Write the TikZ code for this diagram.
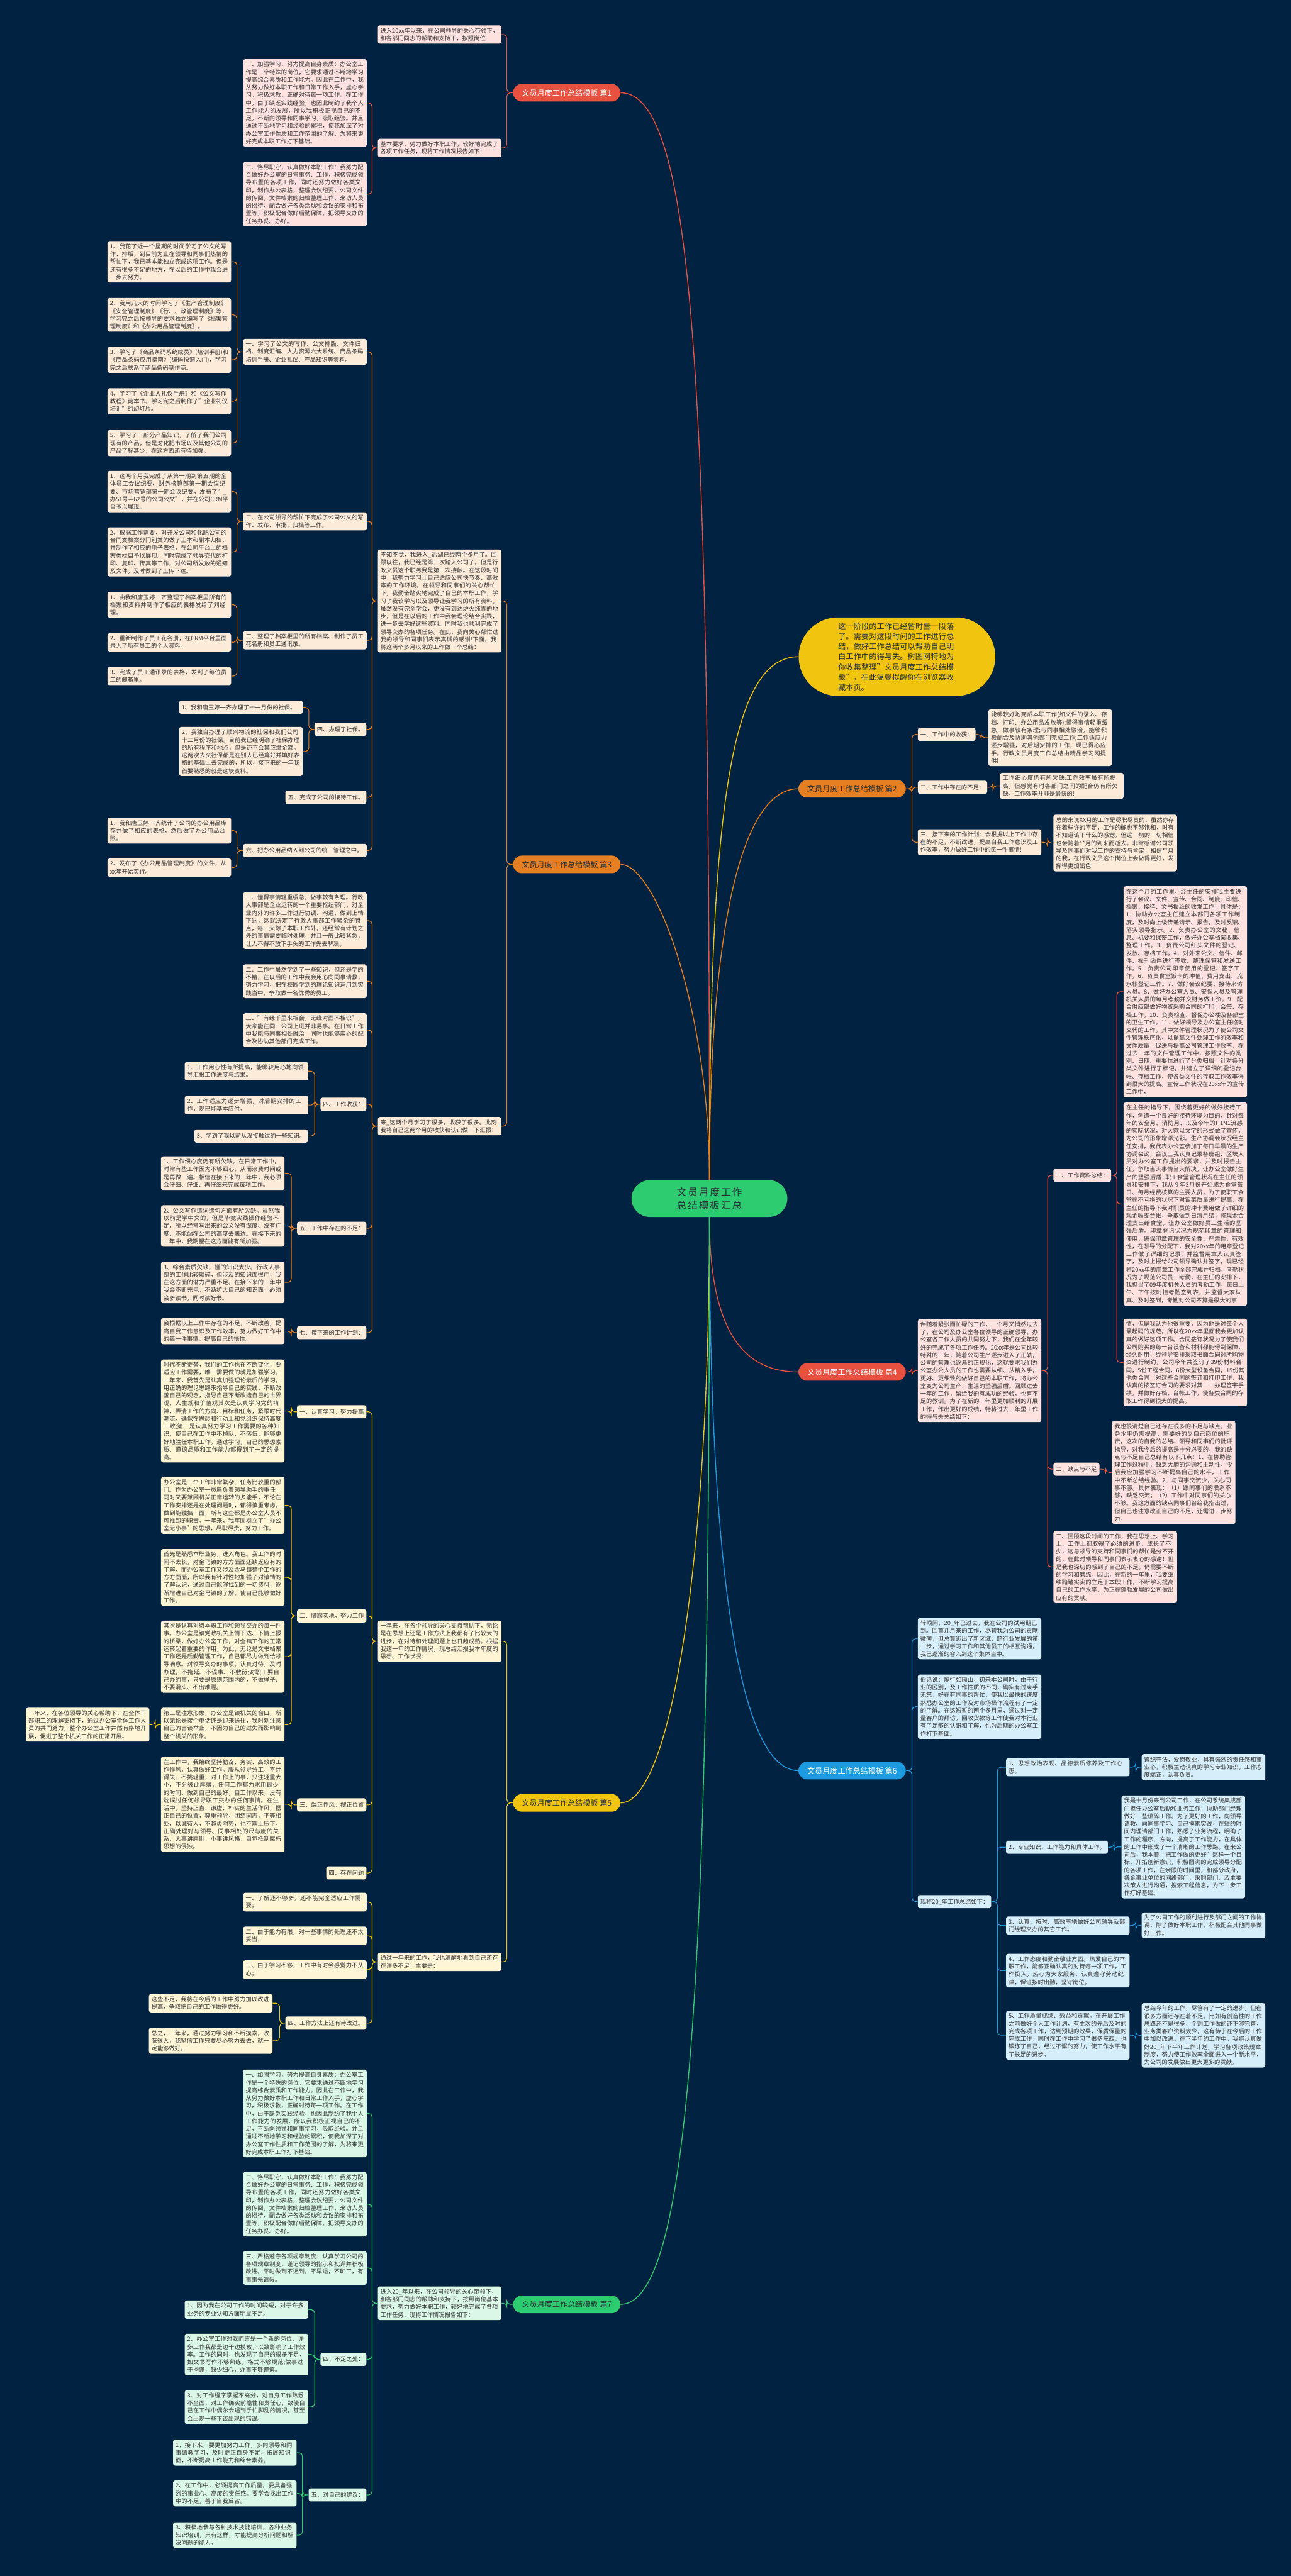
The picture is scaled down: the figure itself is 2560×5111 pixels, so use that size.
\documentclass[tikz,border=0pt]{standalone}
\usepackage{fontspec}
\setmainfont{Noto Sans CJK SC}
\XeTeXlinebreaklocale "zh"
\XeTeXlinebreakskip=0pt plus 1pt
\usepackage{tikz}
\definecolor{fondo}{HTML}{012240}
\definecolor{rojo}{HTML}{E8503F}
\definecolor{naranja}{HTML}{E67E22}
\definecolor{amarillo}{HTML}{F1C40F}
\definecolor{azul}{HTML}{1C9BE0}
\definecolor{verde}{HTML}{2ECC71}
\definecolor{rosa}{HTML}{FDE2DF}
\definecolor{crema}{HTML}{FDEBDA}
\definecolor{paja}{HTML}{FEF5D6}
\definecolor{celeste}{HTML}{D6EEFA}
\definecolor{menta}{HTML}{DAF7E7}
\definecolor{tinta}{HTML}{333333}
\definecolor{oscuro}{HTML}{243036}

\begin{document}
\begin{tikzpicture}[x=0.02cm, y=-0.02cm,
  hoja/.style={anchor=north west, text width=4.7cm, align=left, inner sep=0.1cm,
    minimum height=0.52cm, rounded corners=0.08cm, text=tinta,
    font=\fontsize{6.6pt}{8.7pt}\selectfont},
  etiqueta/.style={inner sep=0.1cm, minimum height=0.52cm, rounded corners=0.08cm,
    text=tinta, font=\fontsize{6.6pt}{8.7pt}\selectfont},
  rama/.style={rounded corners=0.35cm, minimum width=4.26cm, minimum height=0.7cm,
    inner sep=2pt, font=\fontsize{8.6pt}{10pt}\selectfont},
  lin/.style={line width=0.8pt, rounded corners=4pt},
  curva/.style={line width=1pt}
]
\useasboundingbox (0,0) rectangle (2560,5111);
\fill[fondo] (0,0) rectangle (2560,5111);

% Centro
\node[fill=verde, text=oscuro, rounded corners=0.73cm, minimum width=6.18cm,
  minimum height=1.46cm, text width=4.5cm, align=center,
  font=\fontsize{11.3pt}{14.8pt}\selectfont] (hub) at (1407,2378) {文员月度工作总结模板汇总};
\node[fill=amarillo, text=oscuro, rounded corners=1.56cm, minimum width=7.8cm,
  minimum height=3.12cm, text width=4.66cm, align=left,
  font=\fontsize{8.6pt}{11.5pt}\selectfont] (intro) at (1779,1303)
  {这一阶段的工作已经暂时告一段落了。需要对这段时间的工作进行总结，做好工作总结可以帮助自己明白工作中的得与失。树图网特地为你收集整理"文员月度工作总结模板"，在此温馨提醒你在浏览器收藏本页。};

% Ramas
\node[rama, fill=rojo, text=white] (b1) at (1124,184) {文员月度工作总结模板 篇1};
\node[rama, fill=naranja, text=oscuro] (b2) at (1690,1565) {文员月度工作总结模板 篇2};
\node[rama, fill=naranja, text=oscuro] (b3) at (1124,1715) {文员月度工作总结模板 篇3};
\node[rama, fill=rojo, text=white] (b4) at (1690,2722) {文员月度工作总结模板 篇4};
\node[rama, fill=amarillo, text=oscuro] (b5) at (1124,3577) {文员月度工作总结模板 篇5};
\node[rama, fill=azul, text=white] (b6) at (1690,3513) {文员月度工作总结模板 篇6};
\node[rama, fill=verde, text=oscuro] (b7) at (1124,4572) {文员月度工作总结模板 篇7};

\draw[curva, rojo] (hub.north) .. controls (1407,800) and (1380,184) .. (b1.east);
\draw[curva, amarillo] (hub.north) .. controls (1407,1600) and (1450,1303) .. (intro.west);
\draw[curva, naranja] (hub.north) .. controls (1407,1800) and (1480,1565) .. (b2.west);
\draw[curva, naranja] (hub.north) .. controls (1407,2000) and (1300,1715) .. (b3.east);
\draw[curva, rojo] (hub.south) .. controls (1407,2650) and (1480,2722) .. (b4.west);
\draw[curva, amarillo] (hub.south) .. controls (1407,3100) and (1330,3577) .. (b5.east);
\draw[curva, azul] (hub.south) .. controls (1407,3200) and (1480,3513) .. (b6.west);
\draw[curva, verde] (hub.south) .. controls (1407,3900) and (1370,4572) .. (b7.east);

% Pian 1
\node[hoja, fill=rosa] (a1) at (749,50) {进入20xx年以来，在公司领导的关心带领下，和各部门同志的帮助和支持下，按照岗位};
\node[hoja, fill=rosa] (a2) at (749,275) {基本要求，努力做好本职工作，较好地完成了各项工作任务，现将工作情况报告如下：};
\node[hoja, fill=rosa] (a3) at (482,117) {一、加强学习，努力提高自身素质：办公室工作是一个特殊的岗位，它要求通过不断地学习提高综合素质和工作能力。因此在工作中，我从努力做好本职工作和日常工作入手，虚心学习，积极求教，正确对待每一项工作。在工作中，由于缺乏实践经验，也因此制约了我个人工作能力的发展，所以我积极正视自己的不足，不断向领导和同事学习，吸取经验。并且通过不断地学习和经验的累积，使我加深了对办公室工作性质和工作范围的了解，为将来更好完成本职工作打下基础。};
\node[hoja, fill=rosa] (a4) at (482,321) {二、恪尽职守，认真做好本职工作：我努力配合做好办公室的日常事务、工作，积极完成领导布置的各项工作，同时还努力做好各类文印，制作办公表格，整理会议纪要，公司文件的传阅，文件档案的归档整理工作，来访人员的招待，配合做好各类活动和会议的安排和布置等，积极配合做好后勤保障，把领导交办的任务办妥、办好。};
\draw[lin, rojo] (b1.west) -- ++(-12,0) |- (a1.east) (b1.west) -- ++(-12,0) |- (a2.east);
\draw[lin, rojo] (a2.west) -- ++(-11,0) |- (a3.east) (a2.west) -- ++(-11,0) |- (a4.east);

% Pian 3
\node[hoja, fill=crema] (d3) at (749,1090) {不知不觉，我进入\_盐湖已经两个多月了。回顾以往，我已经是第三次踏入公司了。但是行政文员这个职务我是第一次接触。在这段时间中，我努力学习让自己适应公司快节奏、高效率的工作环境。在领导和同事们的关心帮忙下，我勤奋踏实地完成了自己的本职工作，学习了我该学习以及领导让我学习的所有资料，虽然没有完全学会，更没有到达炉火纯青的地步，但是在以后的工作中我会理论结合实践，进一步去学好这些资料。同时我也顺利完成了领导交办的各项任务。在此，我向关心帮忙过我的领导和同事们表示真诚的感谢!下面，我将这两个多月以来的工作做一个总结：};
\node[hoja, fill=crema] (d3b) at (749,2216) {来\_这两个月学习了很多，收获了很多。此刻我将自己这两个月的收获和认识做一下汇报：};
\draw[lin, naranja] (b3.west) -- ++(-12,0) |- (d3.east) (b3.west) -- ++(-12,0) |- (d3b.east);

\node[hoja, fill=crema] (c1) at (482,672) {一、学习了公文的写作、公文排版、文件归档、制度汇编、人力资源六大系统、商品条码培训手册、企业礼仪、产品知识等资料。};
\node[hoja, fill=crema] (c2) at (482,1016) {二、在公司领导的帮忙下完成了公司公文的写作、发布、审批、归档等工作。};
\node[hoja, fill=crema] (c3) at (482,1252) {三、整理了档案柜里的所有档案、制作了员工花名册和员工通讯录。};
\node[etiqueta, fill=crema, anchor=east] (c4) at (727,1447) {四、办理了社保。};
\node[etiqueta, fill=crema, anchor=east] (c5) at (727,1582) {五、完成了公司的接待工作。};
\node[hoja, fill=crema] (c6) at (482,1674) {六、把办公用品纳入到公司的统一管理之中。};
\draw[lin, naranja] (d3.west) -- ++(-11,0) |- (c1.east) (d3.west) -- ++(-11,0) |- (c2.east)
  (d3.west) -- ++(-11,0) |- (c3.east) (d3.west) -- ++(-11,0) |- (c4.east)
  (d3.west) -- ++(-11,0) |- (c5.east) (d3.west) -- ++(-11,0) |- (c6.east);

\node[hoja, fill=crema] (l1) at (213,478) {1、我花了近一个星期的时间学习了公文的写作、排版，到目前为止在领导和同事们热情的帮忙下，我已基本能独立完成这项工作。但是还有很多不足的地方，在以后的工作中我会进一步去努力。};
\node[hoja, fill=crema] (l2) at (213,591) {2、我用几天的时间学习了《生产管理制度》《安全管理制度》《行、、政管理制度》等，学习完之后按领导的要求独立编写了《档案管理制度》和《办公用品管理制度》。};
\node[hoja, fill=crema] (l3) at (213,688) {3、学习了《商品条码系统成员》(培训手册)和《商品条码应用指南》(编码快速入门)，学习完之后联系了商品条码制作商。};
\node[hoja, fill=crema] (l4) at (213,770) {4、学习了《企业人礼仪手册》和《公文写作教程》两本书。学习完之后制作了"企业礼仪培训"的幻灯片。};
\node[hoja, fill=crema] (l5) at (213,853) {5、学习了一部分产品知识，了解了我们公司现有的产品，但是对化肥市场以及其他公司的产品了解甚少，在这方面还有待加强。};
\draw[lin, naranja] (c1.west) -- ++(-12,0) |- (l1.east) (c1.west) -- ++(-12,0) |- (l2.east)
  (c1.west) -- ++(-12,0) |- (l3.east) (c1.west) -- ++(-12,0) |- (l4.east)
  (c1.west) -- ++(-12,0) |- (l5.east);
\node[hoja, fill=crema] (l6) at (213,934) {1、这两个月我完成了从第一期到第五期的全体员工会议纪要、财务核算部第一期会议纪要、市场营销部第一期会议纪要，发布了"\_办51号—62号的公司公文"，并在公司CRM平台予以展现。};
\node[hoja, fill=crema] (l7) at (213,1046) {2、根据工作需要，对开发公司和化肥公司的合同类档案分门别类的做了正本和副本归档，并制作了相应的电子表格，在公司平台上的档案类栏目予以展现。同时完成了领导交代的打印、复印、传真等工作，对公司所发放的通知及文件，及时做到了上传下达。};
\draw[lin, naranja] (c2.west) -- ++(-12,0) |- (l6.east) (c2.west) -- ++(-12,0) |- (l7.east);
\node[hoja, fill=crema] (l8) at (213,1174) {1、由我和唐玉婷一齐整理了档案柜里所有的档案和资料并制作了相应的表格发给了刘经理。};
\node[hoja, fill=crema] (l9) at (213,1256) {2、重新制作了员工花名册，在CRM平台里面录入了所有员工的个人资料。};
\node[hoja, fill=crema] (l10) at (213,1323) {3、完成了员工通讯录的表格，发到了每位员工的邮箱里。};
\draw[lin, naranja] (c3.west) -- ++(-12,0) |- (l8.east) (c3.west) -- ++(-12,0) |- (l9.east)
  (c3.west) -- ++(-12,0) |- (l10.east);
\node[hoja, fill=crema] (l11) at (355,1390) {1、我和唐玉婷一齐办理了十一月份的社保。};
\node[hoja, fill=crema] (l12) at (355,1442) {2、我独自办理了顺兴物流的社保和我们公司十二月份的社保。目前我已经明确了社保办理的所有程序和地点，但是还不会算应缴金额。这两次去交社保都是在别人已经算好并填好表格的基础上去完成的，所以，接下来的一年我首要熟悉的就是这块资料。};
\draw[lin, naranja] (c4.west) -- ++(-11,0) |- (l11.east) (c4.west) -- ++(-11,0) |- (l12.east);
\node[hoja, fill=crema] (l13) at (213,1622) {1、我和唐玉婷一齐统计了公司的办公用品库存并做了相应的表格，然后做了办公用品台账。};
\node[hoja, fill=crema] (l14) at (213,1703) {2、发布了《办公用品管理制度》的文件，从xx年开始实行。};
\draw[lin, naranja] (c6.west) -- ++(-12,0) |- (l13.east) (c6.west) -- ++(-12,0) |- (l14.east);

\node[hoja, fill=crema] (e1) at (482,1770) {一、懂得事情轻重缓急，做事较有条理。行政人事部是企业运转的一个重要枢纽部门，对企业内外的许多工作进行协调、沟通，做到上情下达，这就决定了行政人事部工作繁杂的特点，每一天除了本职工作外，还经常有计划之外的事情需要临时处理，并且一般比较紧急，让人不得不放下手头的工作先去解决。};
\node[hoja, fill=crema] (e2) at (482,1913) {二、工作中虽然学到了一些知识，但还是学的不精，在以后的工作中我会用心向同事请教，努力学习，把在校园学到的理论知识运用到实践当中，争取做一名优秀的员工。};
\node[hoja, fill=crema] (e3) at (482,2010) {三、"有缘千里来相会，无缘对面不相识"，大家能在同一公司上班并非易事。在日常工作中我能与同事相处融洽，同时也能够用心的配合及协助其他部门完成工作。};
\node[etiqueta, fill=crema, anchor=east] (e4) at (727,2191) {四、工作收获：};
\node[etiqueta, fill=crema, anchor=east] (e5) at (727,2437) {五、工作中存在的不足：};
\node[etiqueta, fill=crema, anchor=east] (e7) at (727,2644) {七、接下来的工作计划：};
\draw[lin, naranja] (d3b.west) -- ++(-11,0) |- (e1.east) (d3b.west) -- ++(-11,0) |- (e2.east)
  (d3b.west) -- ++(-11,0) |- (e3.east) (d3b.west) -- ++(-11,0) |- (e4.east)
  (d3b.west) -- ++(-11,0) |- (e5.east) (d3b.west) -- ++(-11,0) |- (e7.east);
\node[hoja, fill=crema] (f1) at (366,2107) {1、工作用心性有所提高，能够较用心地向领导汇报工作进度与结果。};
\node[hoja, fill=crema] (f2) at (366,2174) {2、工作适应力逐步增强，对后期安排的工作，现已能基本应付。};
\node[etiqueta, fill=crema, anchor=east] (f3) at (611,2254) {3、学到了我以前从没接触过的一些知识。};
\draw[lin, naranja] (e4.west) -- ++(-11,0) |- (f1.east) (e4.west) -- ++(-11,0) |- (f2.east)
  (e4.west) -- ++(-11,0) |- (f3.east);
\node[hoja, fill=crema] (g1) at (319,2294) {1、工作细心度仍有所欠缺。在日常工作中，时常有些工作因为不够细心，从而浪费时间或是再做一遍。相信在接下来的一年中，我必须会仔细、仔细、再仔细来完成每项工作。};
\node[hoja, fill=crema] (g2) at (319,2391) {2、公文写作遣词造句方面有所欠缺。虽然我以前是学中文的，但是毕竟实践操作经验不足，所以经常写出来的公文没有深度、没有广度，不能站在公司的高度去表达。在接下来的一年中，我期望在这方面能有所加强。};
\node[hoja, fill=crema] (g3) at (319,2503) {3、综合素质欠缺，懂的知识太少。行政人事部的工作比较琐碎，但涉及的知识面很广，我在这方面的潜力严重不足。在接下来的一年中我会不断充电，不断扩大自己的知识面，必须会多读书，同时读好书。};
\draw[lin, naranja] (e5.west) -- ++(-11,0) |- (g1.east) (e5.west) -- ++(-11,0) |- (g2.east)
  (e5.west) -- ++(-11,0) |- (g3.east);
\node[hoja, fill=crema] (g4) at (319,2615) {会根据以上工作中存在的不足，不断改善，提高自我工作意识及工作效率，努力做好工作中的每一件事情，提高自己的悟性。};
\draw[lin, naranja] (e7.west) -- ++(-11,0) |- (g4.east);

% Pian 5
\node[hoja, fill=paja] (d5a) at (749,3215) {一年来，在各个领导的关心支持帮助下，无论是在思想上还是工作方法上我都有了比较大的进步，在对待和处理问题上也日趋成熟。根据我这一年的工作情况，现总结汇报我本年度的思想、工作状况：};
\node[hoja, fill=paja] (d5b) at (749,3874) {通过一年来的工作，我也清醒地看到自己还存在许多不足，主要是：};
\draw[lin, amarillo] (b5.west) -- ++(-12,0) |- (d5a.east) (b5.west) -- ++(-12,0) |- (d5b.east);
\node[etiqueta, fill=paja, anchor=east] (h1) at (727,2801) {一、认真学习，努力提高};
\node[etiqueta, fill=paja, anchor=east] (h2) at (727,3206) {二、脚踏实地，努力工作};
\node[etiqueta, fill=paja, anchor=east] (h3) at (727,3581) {三、端正作风，摆正位置};
\node[etiqueta, fill=paja, anchor=east] (h4) at (727,3716) {四、存在问题};
\draw[lin, amarillo] (d5a.west) -- ++(-11,0) |- (h1.east) (d5a.west) -- ++(-11,0) |- (h2.east)
  (d5a.west) -- ++(-11,0) |- (h3.east) (d5a.west) -- ++(-11,0) |- (h4.east);
\node[hoja, fill=paja] (i1) at (319,2697) {时代不断更替，我们的工作也在不断变化，要适应工作需要，唯一需要做的就是加强学习。一年来，我首先是认真加强理论素质的学习，用正确的理论思路来指导自己的实践，不断改善自己的观念，指导自己不断改造自己的世界观、人生观和价值观其次是认真学习党的精神，弄清工作的方向、目标和任务，紧跟时代潮流，确保在思想和行动上和党组织保持高度一致;第三是认真努力学习工作需要的各种知识，使自己在工作中不掉队、不落伍，能够更好地胜任本职工作。通过学习，自己的思想素质、道德品质和工作能力都得到了一定的提高。};
\draw[lin, amarillo] (h1.west) -- ++(-11,0) |- (i1.east);
\node[hoja, fill=paja] (i2) at (319,2930) {办公室是一个工作非常繁杂、任务比较重的部门。作为办公室一员肩负着领导助手的重任，同时又要兼顾机关正常运转的多能手，不论在工作安排还是在处理问题时，都得慎重考虑，做到能独挡一面，所有这些都是办公室人员不可推卸的职责。一年来，我牢固树立了"办公室无小事"的思想，尽职尽责，努力工作。};
\node[hoja, fill=paja] (i3) at (319,3073) {首先是熟悉本职业务，进入角色。我工作的时间不太长，对金马镇的方方面面还缺乏应有的了解，而办公室工作又涉及金马镇整个工作的方方面面，所以我有针对性地加强了对镇情的了解认识，通过自己能够找到的一切资料，逐渐增进自己对金马镇的了解，使自己能够做好工作。};
\node[hoja, fill=paja] (i4) at (319,3215) {其次是认真对待本职工作和领导交办的每一件事。办公室是镇党政机关上情下达、下情上报的桥梁，做好办公室工作，对全镇工作的正常运转起着重要的作用，为此，无论是文书档案工作还是后勤管理工作，自己都尽力做到给领导满意。对领导交办的事项，认真对待，及时办理，不拖延、不误事、不敷衍;对职工要自己办的事，只要是原则范围内的，不做样子、不耍滑头、不出难题。};
\node[hoja, fill=paja] (i5) at (319,3388) {第三是注意形象，办公室是镇机关的窗口，所以无论是接个电话还是迎来送往，我时刻注意自己的言谈举止，不因为自己的过失而影响到整个机关的形象。};
\draw[lin, amarillo] (h2.west) -- ++(-11,0) |- (i2.east) (h2.west) -- ++(-11,0) |- (i3.east)
  (h2.west) -- ++(-11,0) |- (i4.east) (h2.west) -- ++(-11,0) |- (i5.east);
\node[hoja, fill=paja] (i6) at (51,3388) {一年来，在各位领导的关心帮助下，在全体干部职工的理解支持下，通过办公室全体工作人员的共同努力，整个办公室工作井然有序地开展，促进了整个机关工作的正常开展。};
\draw[lin, amarillo] (i5.west) -- ++(-11,0) |- (i6.east);
\node[hoja, fill=paja] (i7) at (319,3485) {在工作中，我始终坚持勤奋、务实、高效的工作作风，认真做好工作。服从领导分工，不计得失、不挑轻重，对工作上的事，只注轻重大小，不分彼此厚薄，任何工作都力求用最少的时间，做到自己的最好，自工作以来，没有耽误过任何领导职工交办的任何事情。在生活中，坚持正直、谦虚、朴实的生活作风，摆正自己的位置，尊重领导，团结同志，平等相处，以诚待人，不趋炎附势，也不欺上压下，正确处理好与领导、同事相处的尺与度的关系，大事讲原则，小事讲风格，自觉抵制腐朽思想的侵蚀。};
\draw[lin, amarillo] (h3.west) -- ++(-11,0) |- (i7.east);
\node[hoja, fill=paja] (j1) at (482,3755) {一、了解还不够多，还不能完全适应工作需要；};
\node[hoja, fill=paja] (j2) at (482,3822) {二、由于能力有限，对一些事情的处理还不太妥当；};
\node[hoja, fill=paja] (j3) at (482,3889) {三、由于学习不够，工作中有时会感觉力不从心；};
\node[etiqueta, fill=paja, anchor=east] (j4) at (727,4014) {四、工作方法上还有待改进。};
\draw[lin, amarillo] (d5b.west) -- ++(-11,0) |- (j1.east) (d5b.west) -- ++(-11,0) |- (j2.east)
  (d5b.west) -- ++(-11,0) |- (j3.east) (d5b.west) -- ++(-11,0) |- (j4.east);
\node[hoja, fill=paja] (k1) at (295,3956) {这些不足，我将在今后的工作中努力加以改进提高，争取把自己的工作做得更好。};
\node[hoja, fill=paja] (k2) at (295,4023) {总之，一年来，通过努力学习和不断摸索，收获很大，我坚信工作只要尽心努力去做，就一定能够做好。};
\draw[lin, amarillo] (j4.west) -- ++(-11,0) |- (k1.east) (j4.west) -- ++(-11,0) |- (k2.east);

% Pian 7
\node[hoja, fill=menta] (d7) at (749,4536) {进入20\_年以来，在公司领导的关心带领下，和各部门同志的帮助和支持下，按照岗位基本要求，努力做好本职工作，较好地完成了各项工作任务，现将工作情况报告如下：};
\draw[lin, verde] (b7.west) -- ++(-12,0) |- (d7.east);
\node[hoja, fill=menta] (q1) at (482,4106) {一、加强学习，努力提高自身素质：办公室工作是一个特殊的岗位，它要求通过不断地学习提高综合素质和工作能力。因此在工作中，我从努力做好本职工作和日常工作入手，虚心学习，积极求教，正确对待每一项工作。在工作中，由于缺乏实践经验，也因此制约了我个人工作能力的发展，所以我积极正视自己的不足，不断向领导和同事学习，吸取经验。并且通过不断地学习和经验的累积，使我加深了对办公室工作性质和工作范围的了解，为将来更好完成本职工作打下基础。};
\node[hoja, fill=menta] (q2) at (482,4309) {二、恪尽职守，认真做好本职工作：我努力配合做好办公室的日常事务、工作，积极完成领导布置的各项工作，同时还努力做好各类文印，制作办公表格，整理会议纪要，公司文件的传阅，文件档案的归档整理工作，来访人员的招待，配合做好各类活动和会议的安排和布置等，积极配合做好后勤保障，把领导交办的任务办妥、办好。};
\node[hoja, fill=menta] (q3) at (482,4466) {三、严格遵守各项规章制度：认真学习公司的各项规章制度，谨记领导的指示和批评并积极改进。平时做到不迟到，不早退，不旷工，有事事先请假。};
\node[etiqueta, fill=menta, anchor=east] (q4) at (727,4681) {四、不足之处：};
\node[etiqueta, fill=menta, anchor=east] (q5) at (727,4950) {五、对自己的建议：};
\draw[lin, verde] (d7.west) -- ++(-11,0) |- (q1.east) (d7.west) -- ++(-11,0) |- (q2.east)
  (d7.west) -- ++(-11,0) |- (q3.east) (d7.west) -- ++(-11,0) |- (q4.east)
  (d7.west) -- ++(-11,0) |- (q5.east);
\node[hoja, fill=menta] (r1) at (366,4564) {1、因为我在公司工作的时间较短，对于许多业务的专业认知方面明显不足。};
\node[hoja, fill=menta] (r2) at (366,4630) {2、办公室工作对我而言是一个新的岗位，许多工作我都是边干边摸索，以致影响了工作效率。工作的同时，也发现了自己的很多不足，如文书写作不够熟练，格式不够规范;做事过于拘谨，缺少细心，办事不够谨慎。};
\node[hoja, fill=menta] (r3) at (366,4742) {3、对工作程序掌握不充分，对自身工作熟悉不全面，对工作确实前瞻性和责任心，致使自己在工作中偶尔会遇到手忙脚乱的情况，甚至会出现一些不该出现的错误。};
\draw[lin, verde] (q4.west) -- ++(-11,0) |- (r1.east) (q4.west) -- ++(-11,0) |- (r2.east)
  (q4.west) -- ++(-11,0) |- (r3.east);
\node[hoja, fill=menta] (r4) at (343,4840) {1、接下来，要更加努力工作，多向领导和同事请教学习，及时更正自身不足，拓展知识面，不断提高工作能力和综合素养。};
\node[hoja, fill=menta] (r5) at (343,4921) {2、在工作中，必须提高工作质量，要具备强烈的事业心、高度的责任感。要学会找出工作中的不足，善于自我反省。};
\node[hoja, fill=menta] (r6) at (343,5004) {3、积极地参与各种技术技能培训，各种业务知识培训，只有这样，才能提高分析问题和解决问题的能力。};
\draw[lin, verde] (q5.west) -- ++(-12,0) |- (r4.east) (q5.west) -- ++(-12,0) |- (r5.east)
  (q5.west) -- ++(-12,0) |- (r6.east);

% Pian 2
\node[etiqueta, fill=crema, anchor=west] (s2a) at (1820,1457) {一、工作中的收获：};
\node[etiqueta, fill=crema, anchor=west] (s2b) at (1820,1562) {二、工作中存在的不足：};
\node[hoja, fill=crema] (s2c) at (1820,1645) {三、接下来的工作计划：会根据以上工作中存在的不足，不断改进，提高自我工作意识及工作效率，努力做好工作中的每一件事情!};
\draw[lin, naranja] (b2.east) -- ++(12,0) |- (s2a.west) (b2.east) -- ++(12,0) |- (s2b.west)
  (b2.east) -- ++(12,0) |- (s2c.west);
\node[hoja, fill=crema] (t2a) at (1960,1407) {能够较好地完成本职工作(如文件的录入、存档、打印、办公用品发放等);懂得事情轻重缓急，做事较有条理;与同事相处融洽，能够积极配合及协助其他部门完成工作;工作适应力逐步增强，对后期安排的工作，现已得心应手。行政文员月度工作总结由精品学习网提供!};
\node[hoja, fill=crema] (t2b) at (1983,1533) {工作细心度仍有所欠缺;工作效率虽有所提高，但感觉有时各部门之间的配合仍有所欠缺，工作效率并非是最快的!};
\node[hoja, fill=crema] (t2c) at (2089,1616) {总的来说XX月的工作是尽职尽责的，虽然亦存在着些许的不足，工作的确也不够饱和，时有不知道该干什么的感觉，但这一切的一切相信也会随着**月的到来而逝去。非常感谢公司领导及同事们对我工作的支持与肯定，相信**月的我，在行政文员这个岗位上会做得更好，发挥得更加出色!};
\draw[lin, naranja] (s2a.east) -- ++(11,0) |- (t2a.west) (s2b.east) -- ++(11,0) |- (t2b.west)
  (s2c.east) -- ++(12,0) |- (t2c.west);

% Pian 4
\node[hoja, fill=rosa] (d4) at (1820,2617) {伴随着紧张而忙碌的工作，一个月又悄然过去了，在公司及办公室各位领导的正确领导，办公室各工作人员的共同努力下，我们在全年较好的完成了各项工作任务。20xx年是公司比较特殊的一年，随着公司生产逐步进入了正轨，公司的管理也逐渐的正规化，这就要求我们办公室办公人员的工作也需要从细、从精入手，更好、更细致的做好自己的本职工作，将办公室变为公司生产、生活的坚强后盾。回顾过去一年的工作，留给我的有成功的经验，也有不足的教训。为了在新的一年里更加顺利的开展工作，作出更好的成绩，特将过去一年里工作的得与失总结如下：};
\draw[lin, rojo] (b4.east) -- ++(12,0) |- (d4.west);
\node[etiqueta, fill=rosa, anchor=west] (r4a) at (2089,2332) {一、工作资料总结：};
\node[etiqueta, fill=rosa, anchor=west] (r4b) at (2089,2915) {二、缺点与不足};
\node[hoja, fill=rosa] (r4c) at (2089,3037) {三、回顾这段时间的工作，我在思想上、学习上、工作上都取得了必须的进步，成长了不少，这与领导的支持和同事们的帮忙是分不开的，在此对领导和同事们表示衷心的感谢！但是我也深切的感到了自己的不足，仍需要不断的学习和磨练。因此，在新的一年里，我要继续踏踏实实的立足于本职工作，不断学习提高自己的工作水平，为正在蓬勃发展的公司做出应有的贡献。};
\draw[lin, rojo] (d4.east) -- ++(12,0) |- (r4a.west) (d4.east) -- ++(12,0) |- (r4b.west)
  (d4.east) -- ++(12,0) |- (r4c.west);
\node[hoja, fill=rosa] (u1) at (2228,1758) {在这个月的工作里，经主任的安排我主要进行了会议、文件、宣传、合同、制度、印信、档案、接待、文书报纸的收发工作，具体是：1．协助办公室主任建立本部门各项工作制度，及时向上级传递请示、报告，及时反馈、落实领导指示。2．负责办公室的文秘、信息、机要和保密工作，做好办公室档案收集、整理工作。3．负责公司红头文件的登记、发放、存档工作。4．对外来公文、信件、邮件、报刊函件进行签收、整理保管和发送工作。5．负责公司印章使用的登记、签字工作。6．负责食堂饭卡的冲值、费用支出、流水帐登记工作。7．做好会议纪要，接待来访人员。8．做好办公室人员、安保人员及管理机关人员的每月考勤并交财务做工资。9．配合供应部做好物资采购合同的打印，会签、存档工作。10．负责检查、督促办公楼及各部室的卫生工作。11．做好领导及办公室主任临时交代的工作。其中文件管理状况为了使公司文件管理秩序化，以提高文件处理工作的效率和文件质量，促进与提高公司管理工作效率，在过去一年的文件管理工作中，按照文件的类别、日期、重要性进行了分类归档，针对各分类文件进行了标记，并建立了详细的登记台帐、存档工作，使各类文件的存取工作效率得到很大的提高。宣传工作状况在20xx年的宣传工作中，};
\node[hoja, fill=rosa] (u2) at (2228,2187) {在主任的指导下，围绕着更好的做好接待工作，创造一个良好的接待环境为目的，针对每年的安全月、消防月、以及今年的H1N1流感的实际状况，对大家以文字的形式做了宣传，为公司的形象增添光彩。生产协调会状况经主任安排，我代表办公室参加了每日早晨的生产协调会议，会议上我认真记录各班组、区块人员对办公室工作提出的要求，并及时报告主任，争取当天事情当天解决，让办公室做好生产的坚强后盾..职工食堂管理状况在主任的领导和安排下，我从今年3月份开始成为食堂每日、每月经费核算的主要人员，为了使职工食堂在不亏损的状况下对饭菜质量进行提高，在主任的指导下我对职员的冲卡费用做了详细的现金收支台帐，争取做到日清月结，将现金合理支出给食堂，让办公室做好员工生活的坚强后盾。印章登记状况为规范印章的管理和使用，确保印章管理的安全性、严肃性、有效性，在领导的分配下，我对20xx年的用章登记工作做了详细的记录，并监督用章人认真签字，及时上报给公司领导确认并签字，现已经将20xx年的用章工作全部完成并归档。考勤状况为了规范公司员工考勤，在主任的安排下，我担当了09年度机关人员的考勤工作，每日上午、下午按时挂考勤签到表，并监督大家认真、及时签到，考勤对公司不算是很大的事};
\node[hoja, fill=rosa] (u3) at (2228,2616) {情，但是我认为他很重要，因为他是对每个人最起码的规范，所以在20xx年里面我会更加认真的做好这项工作。合同签订状况为了使我们公司购买的每一台设备和材料都能得到保障，经久耐用，经领导安排采取书面合同对所购物资进行制约，公司今年共签订了39份材料合同，5份工程合同，6份大型设备合同，15份其他类合同，对这些合同的签订和打印工作，我认真的按签订合同的要求对其一一办理签字手续，并做好存档、台帐工作，使各类合同的存取工作得到很大的提高。};
\draw[lin, rojo] (r4a.east) -- ++(11,0) |- (u1.west) (r4a.east) -- ++(11,0) |- (u2.west)
  (r4a.east) -- ++(11,0) |- (u3.west);
\node[hoja, fill=rosa] (u4) at (2205,2819) {我也很清楚自己还存在很多的不足与缺点，业务水平仍需提高，需要好的尽自己岗位的职责，这次的自我的总结、领导和同事们的批评指导，对我今后的提高是十分必要的，我的缺点与不足自己总结有以下几点：1、在协助管理工作过程中，缺乏大胆的沟通和主动性，今后我应加强学习不断提高自己的水平，工作中不断总结经验。2、与同事交流少，关心同事不够。具体表现：（1）跟同事们的联系不够，缺乏交流；（2）工作中对同事们的关心不够。我这方面的缺点同事们曾给我指出过，但自己也注意改正自己的不足，还需进一步努力。};
\draw[lin, rojo] (r4b.east) -- ++(12,0) |- (u4.west);

% Pian 6
\node[hoja, fill=celeste] (w1) at (1820,3210) {转眼间，20\_年已过去，我在公司的试用期已到。回首几月来的工作，尽管我为公司的贡献微薄，但总算迈出了新区域，跨行业发展的第一步，通过学习工作和其他员工的相互沟通，我已逐渐的容入到这个集体当中。};
\node[hoja, fill=celeste] (w2) at (1820,3322) {俗话说：隔行如隔山，初来本公司时，由于行业的区别，及工作性质的不同，确实有过束手无策，好在有同事的帮忙，使我以最快的速度熟悉办公室的工作及对市场操作流程有了一定的了解。在这短暂的两个多月里，通过对一定量客户的拜访，回收货款等工作使我对本行业有了足够的认识和了解，也为后期的办公室工作打下基础。};
\node[etiqueta, fill=celeste, anchor=west] (w3) at (1820,3773) {现将20\_年工作总结如下：};
\draw[lin, azul] (b6.east) -- ++(12,0) |- (w1.west) (b6.east) -- ++(12,0) |- (w2.west)
  (b6.east) -- ++(12,0) |- (w3.west);
\node[hoja, fill=celeste] (x1) at (1995,3488) {1、思想政治表现、品德素质修养及工作心态。};
\node[etiqueta, fill=celeste, anchor=west] (x2) at (1995,3665) {2、专业知识、工作能力和具体工作。};
\node[hoja, fill=celeste] (x3) at (1995,3802) {3、认真、按时、高效率地做好公司领导及部门经理交办的其它工作。};
\node[hoja, fill=celeste] (x4) at (1995,3876) {4、工作态度和勤奋敬业方面。热爱自己的本职工作，能够正确认真的对待每一项工作，工作投入，热心为大家服务，认真遵守劳动纪律，保证按时出勤，坚守岗位。};
\node[hoja, fill=celeste] (x5) at (1995,3989) {5、工作质量成绩、效益和贡献。在开展工作之前做好个人工作计划，有主次的先后及时的完成各项工作，达到预期的效果，保质保量的完成工作，同时在工作中学习了很多东西，也锻炼了自己，经过不懈的努力，使工作水平有了长足的进步。};
\draw[lin, azul] (w3.east) -- ++(12,0) |- (x1.west) (w3.east) -- ++(12,0) |- (x2.west)
  (w3.east) -- ++(12,0) |- (x3.west) (w3.east) -- ++(12,0) |- (x4.west)
  (w3.east) -- ++(12,0) |- (x5.west);
\node[hoja, fill=celeste] (y1) at (2264,3480) {遵纪守法，爱岗敬业，具有强烈的责任感和事业心，积极主动认真的学习专业知识，工作态度端正，认真负责。};
\node[hoja, fill=celeste] (y2) at (2224,3562) {我是十月份来到公司工作，在公司系统集成部门担任办公室后勤和业务工作，协助部门经理做好一些琐碎工作。为了更好的工作，向领导请教、向同事学习、自己摸索实践，在短的时间内理清部门工作，熟悉了业务流程，明确了工作的程序、方向，提高了工作能力，在具体的工作中形成了一个清晰的工作思路。在来公司后，我本着"把工作做的更好"这样一个目标，开拓创新意识，积极圆满的完成领导分配的各项工作，在余限的时间里，和部分政府，各企事业单位的网络部门，采购部门，及主要决策人进行沟通，搜索工程信息，为下一步工作打好基础。};
\node[hoja, fill=celeste] (y3) at (2264,3794) {为了公司工作的顺利进行及部门之间的工作协调，除了做好本职工作，积极配合其他同事做好工作。};
\node[hoja, fill=celeste] (y5) at (2264,3974) {总结今年的工作，尽管有了一定的进步，但在很多方面还存在着不足。比如有创造性的工作思路还不是很多，个别工作做的还不够完善，业务类客户资料太少，这有待于在今后的工作中加以改进。在下半年的工作中，我将认真做好20\_年下半年工作计划，学习各项政策规章制度，努力使工作效率全面进入一个新水平，为公司的发展做出更大更多的贡献。};
\draw[lin, azul] (x1.east) -- ++(12,0) |- (y1.west) (x2.east) -- ++(12,0) |- (y2.west)
  (x3.east) -- ++(12,0) |- (y3.west) (x5.east) -- ++(12,0) |- (y5.west);
\end{tikzpicture}
\end{document}
